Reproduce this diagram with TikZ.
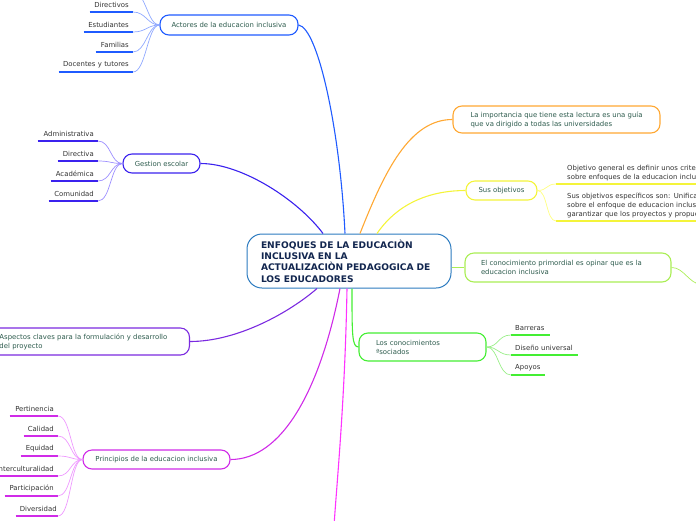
\documentclass[tikz,border=0pt]{standalone}
\usepackage{fontspec}
\setmainfont{DejaVu Sans}
\definecolor{boxtext}{HTML}{2E5C4E}
\definecolor{leaftext}{HTML}{333333}
\definecolor{titletext}{HTML}{12264F}
\definecolor{cmain}{HTML}{2C7BC0}
\definecolor{cact}{HTML}{1F5BFF}
\definecolor{cactl}{HTML}{8FA8FF}
\definecolor{cges}{HTML}{3B22EE}
\definecolor{cgesl}{HTML}{9D8FFF}
\definecolor{casp}{HTML}{7B2AE0}
\definecolor{cpri}{HTML}{D02BE8}
\definecolor{cpril}{HTML}{EE99FF}
\definecolor{cmag}{HTML}{FF33FF}
\definecolor{cora}{HTML}{FFA833}
\definecolor{cyel}{HTML}{F4F43A}
\definecolor{cyell}{HTML}{FFFF80}
\definecolor{cgre}{HTML}{AAEE55}
\definecolor{ccon}{HTML}{44EE33}
\definecolor{cconl}{HTML}{99EE88}
\begin{document}
\begin{tikzpicture}[x=1pt,y=-1pt,
  txt/.style={font=\fontsize{6.9}{9}\selectfont},
  box/.style={txt, draw, rounded corners=9pt, line width=1.1pt, fill=white, text=boxtext, inner sep=0pt, align=center},
  leafr/.style={txt, anchor=south east, align=right, inner xsep=4pt, inner ysep=4.2pt, text=leaftext},
  leafl/.style={txt, anchor=south west, align=left, inner xsep=4pt, inner ysep=4.2pt, text=leaftext},
  ul/.style={line width=1.6pt},
  br/.style={line width=0.7pt},
  mainline/.style={line width=1.1pt}]
\useasboundingbox (0,0) rectangle (696,520);
\clip (0,0) rectangle (696,520);

% central node
\node[draw=cmain, line width=1pt, rounded corners=15pt, fill=white, text=titletext,
  font=\bfseries\fontsize{9.1}{11.4}\selectfont, align=left, inner xsep=14pt, inner ysep=0pt,
  text width=176pt, minimum height=54pt] (c) at (349,261)
  {ENFOQUES DE LA EDUCACIÒN\\INCLUSIVA EN LA\\ACTUALIZACIÒN PEDAGOGICA DE\\LOS EDUCADORES};

% first level boxes
\node[box, draw=cact, minimum width=138pt, minimum height=20pt] (act) at (229,25) {Actores de la educacion inclusiva};
\node[box, draw=cges, minimum width=77pt, minimum height=19pt] (ges) at (161.5,163.5) {Gestion escolar};
\node[box, draw=casp, anchor=east, align=left, inner xsep=8pt, text width=182pt, minimum height=27pt] (asp) at (190,341.5)
  {Aspectos claves para la formulación y desarrollo\\del proyecto};
\node[box, draw=cpri, minimum width=147pt, minimum height=19pt] (pri) at (156.5,459.5) {Principios de la educacion inclusiva};
\node[box, draw=cora, align=left, minimum width=207pt, minimum height=27pt] (ora) at (556.5,119.5)
  {La importancia que tiene esta lectura es una guía\\que va dirigido a todas las universidades};
\node[box, draw=cyel, minimum width=71pt, minimum height=19pt] (obj) at (501.5,190.5) {Sus objetivos};
\node[box, draw=cgre, align=left, inner xsep=16pt, text width=174pt, minimum height=29pt] (gre) at (568,267.5)
  {El conocimiento primordial es opinar que es la\\educacion inclusiva};
\node[box, draw=ccon, align=left, inner xsep=17pt, text width=93pt, minimum height=28pt] (con) at (422.5,347)
  {Los conocimientos\\ªsociados};

% main connectors
\draw[mainline, cact] ([xshift=-4pt]c.north) .. controls (340,130) and (318,28) .. (act.east);
\draw[mainline, cges] ([xshift=-26pt]c.north) .. controls (298,200) and (242,163.5) .. (ges.east);
\draw[mainline, cora] ([xshift=11pt]c.north) .. controls (385,170) and (410,119.5) .. (ora.west);
\draw[mainline, cyel] ([xshift=28pt]c.north) .. controls (400,200) and (435,190.5) .. (obj.west);
\draw[mainline, cgre] (c.east |- gre.west) -- (gre.west);
\coordinate (grex) at (702,285);
\draw[br, cgre] (gre.east) .. controls (684,267.5) and (688,283) .. (grex);
\draw[mainline, casp] ([xshift=-32pt]c.south) .. controls (290,312) and (238,341.5) .. (asp.east);
\draw[mainline, cpri] ([xshift=-9pt]c.south) .. controls (320,390) and (282,459.5) .. (pri.east);
\coordinate (magx) at (334,526);
\draw[mainline, cmag] ([xshift=-2pt]c.south) .. controls (345,400) and (337,480) .. (magx);
\draw[mainline, ccon] ([xshift=3pt]c.south) .. controls (352,335) and (352,347) .. (con.west);

% Actores leaves
\coordinate (a0) at (133,-8);
\node[leafr, text width=35pt] (a1) at (133,12) {Directivos};
\node[leafr, text width=41pt] (a2) at (133,32) {Estudiantes};
\node[leafr, text width=29pt] (a3) at (133,52) {Familias};
\node[leafr, text width=66pt] (a4) at (133,72) {Docentes y tutores};
\draw[br, cactl] (act.west) .. controls ([xshift=-12pt]act.west) and (146,-8) .. (a0);
\foreach \n in {a1,a2,a3,a4}{
  \draw[ul, cact] (\n.south west) -- (\n.south east);
  \draw[br, cactl] (act.west) .. controls ([xshift=-12pt]act.west) and ([xshift=13pt]\n.south east) .. (\n.south east);
}

% Gestion leaves
\node[leafr, text width=52pt] (g1) at (98,141) {Administrativa};
\node[leafr, text width=32pt] (g2) at (98,161) {Directiva};
\node[leafr, text width=39pt] (g3) at (98,181) {Académica};
\node[leafr, text width=41pt] (g4) at (98,201) {Comunidad};
\foreach \n in {g1,g2,g3,g4}{
  \draw[ul, cges] (\n.south west) -- (\n.south east);
  \draw[br, cgesl] (ges.west) .. controls ([xshift=-12pt]ges.west) and ([xshift=13pt]\n.south east) .. (\n.south east);
}

% Principios leaves
\node[leafr, text width=40pt] (p1) at (58,416) {Pertinencia};
\node[leafr, text width=26pt] (p2) at (58,436) {Calidad};
\node[leafr, text width=29pt] (p3) at (58,456) {Equidad};
\node[leafr, text width=62pt] (p4) at (58,476) {Interculturalidad};
\node[leafr, text width=45pt] (p5) at (58,496) {Participación};
\node[leafr, text width=34pt] (p6) at (58,516) {Diversidad};
\foreach \n in {p1,p2,p3,p4,p5,p6}{
  \draw[ul, cpri] (\n.south west) -- (\n.south east);
  \draw[br, cpril] (pri.west) .. controls ([xshift=-12pt]pri.west) and ([xshift=13pt]\n.south east) .. (\n.south east);
}

% Sus objetivos leaves
\node[leafl, inner xsep=11pt, inner ysep=2.5pt, text width=260pt] (o1) at (556,184)
  {Objetivo general es definir unos criterios\\sobre enfoques de la educacion inclusiva};
\node[leafl, inner xsep=11pt, inner ysep=2.5pt, text width=260pt] (o2) at (556,221)
  {Sus objetivos específicos son: Unificar criterios\\sobre el enfoque de educacion inclusiva y\\garantizar que los proyectos y propuestas};
\foreach \n in {o1,o2}{
  \draw[ul, line width=1.2pt, cyel] (\n.south west) -- (\n.south east);
  \draw[br, cyell] (obj.east) .. controls ([xshift=10pt]obj.east) and ([xshift=-10pt]\n.south west) .. (\n.south west);
}

% Conocimientos leaves
\node[leafl, text width=31pt] (k1) at (511,335) {Barreras};
\node[leafl, text width=59pt] (k2) at (511,355) {Diseño universal};
\node[leafl, text width=26pt] (k3) at (511,375) {Apoyos};
\foreach \n in {k1,k2,k3}{
  \draw[ul, ccon] (\n.south west) -- (\n.south east);
  \draw[br, cconl] (con.east) .. controls ([xshift=12pt]con.east) and ([xshift=-13pt]\n.south west) .. (\n.south west);
}
\end{tikzpicture}
\end{document}
